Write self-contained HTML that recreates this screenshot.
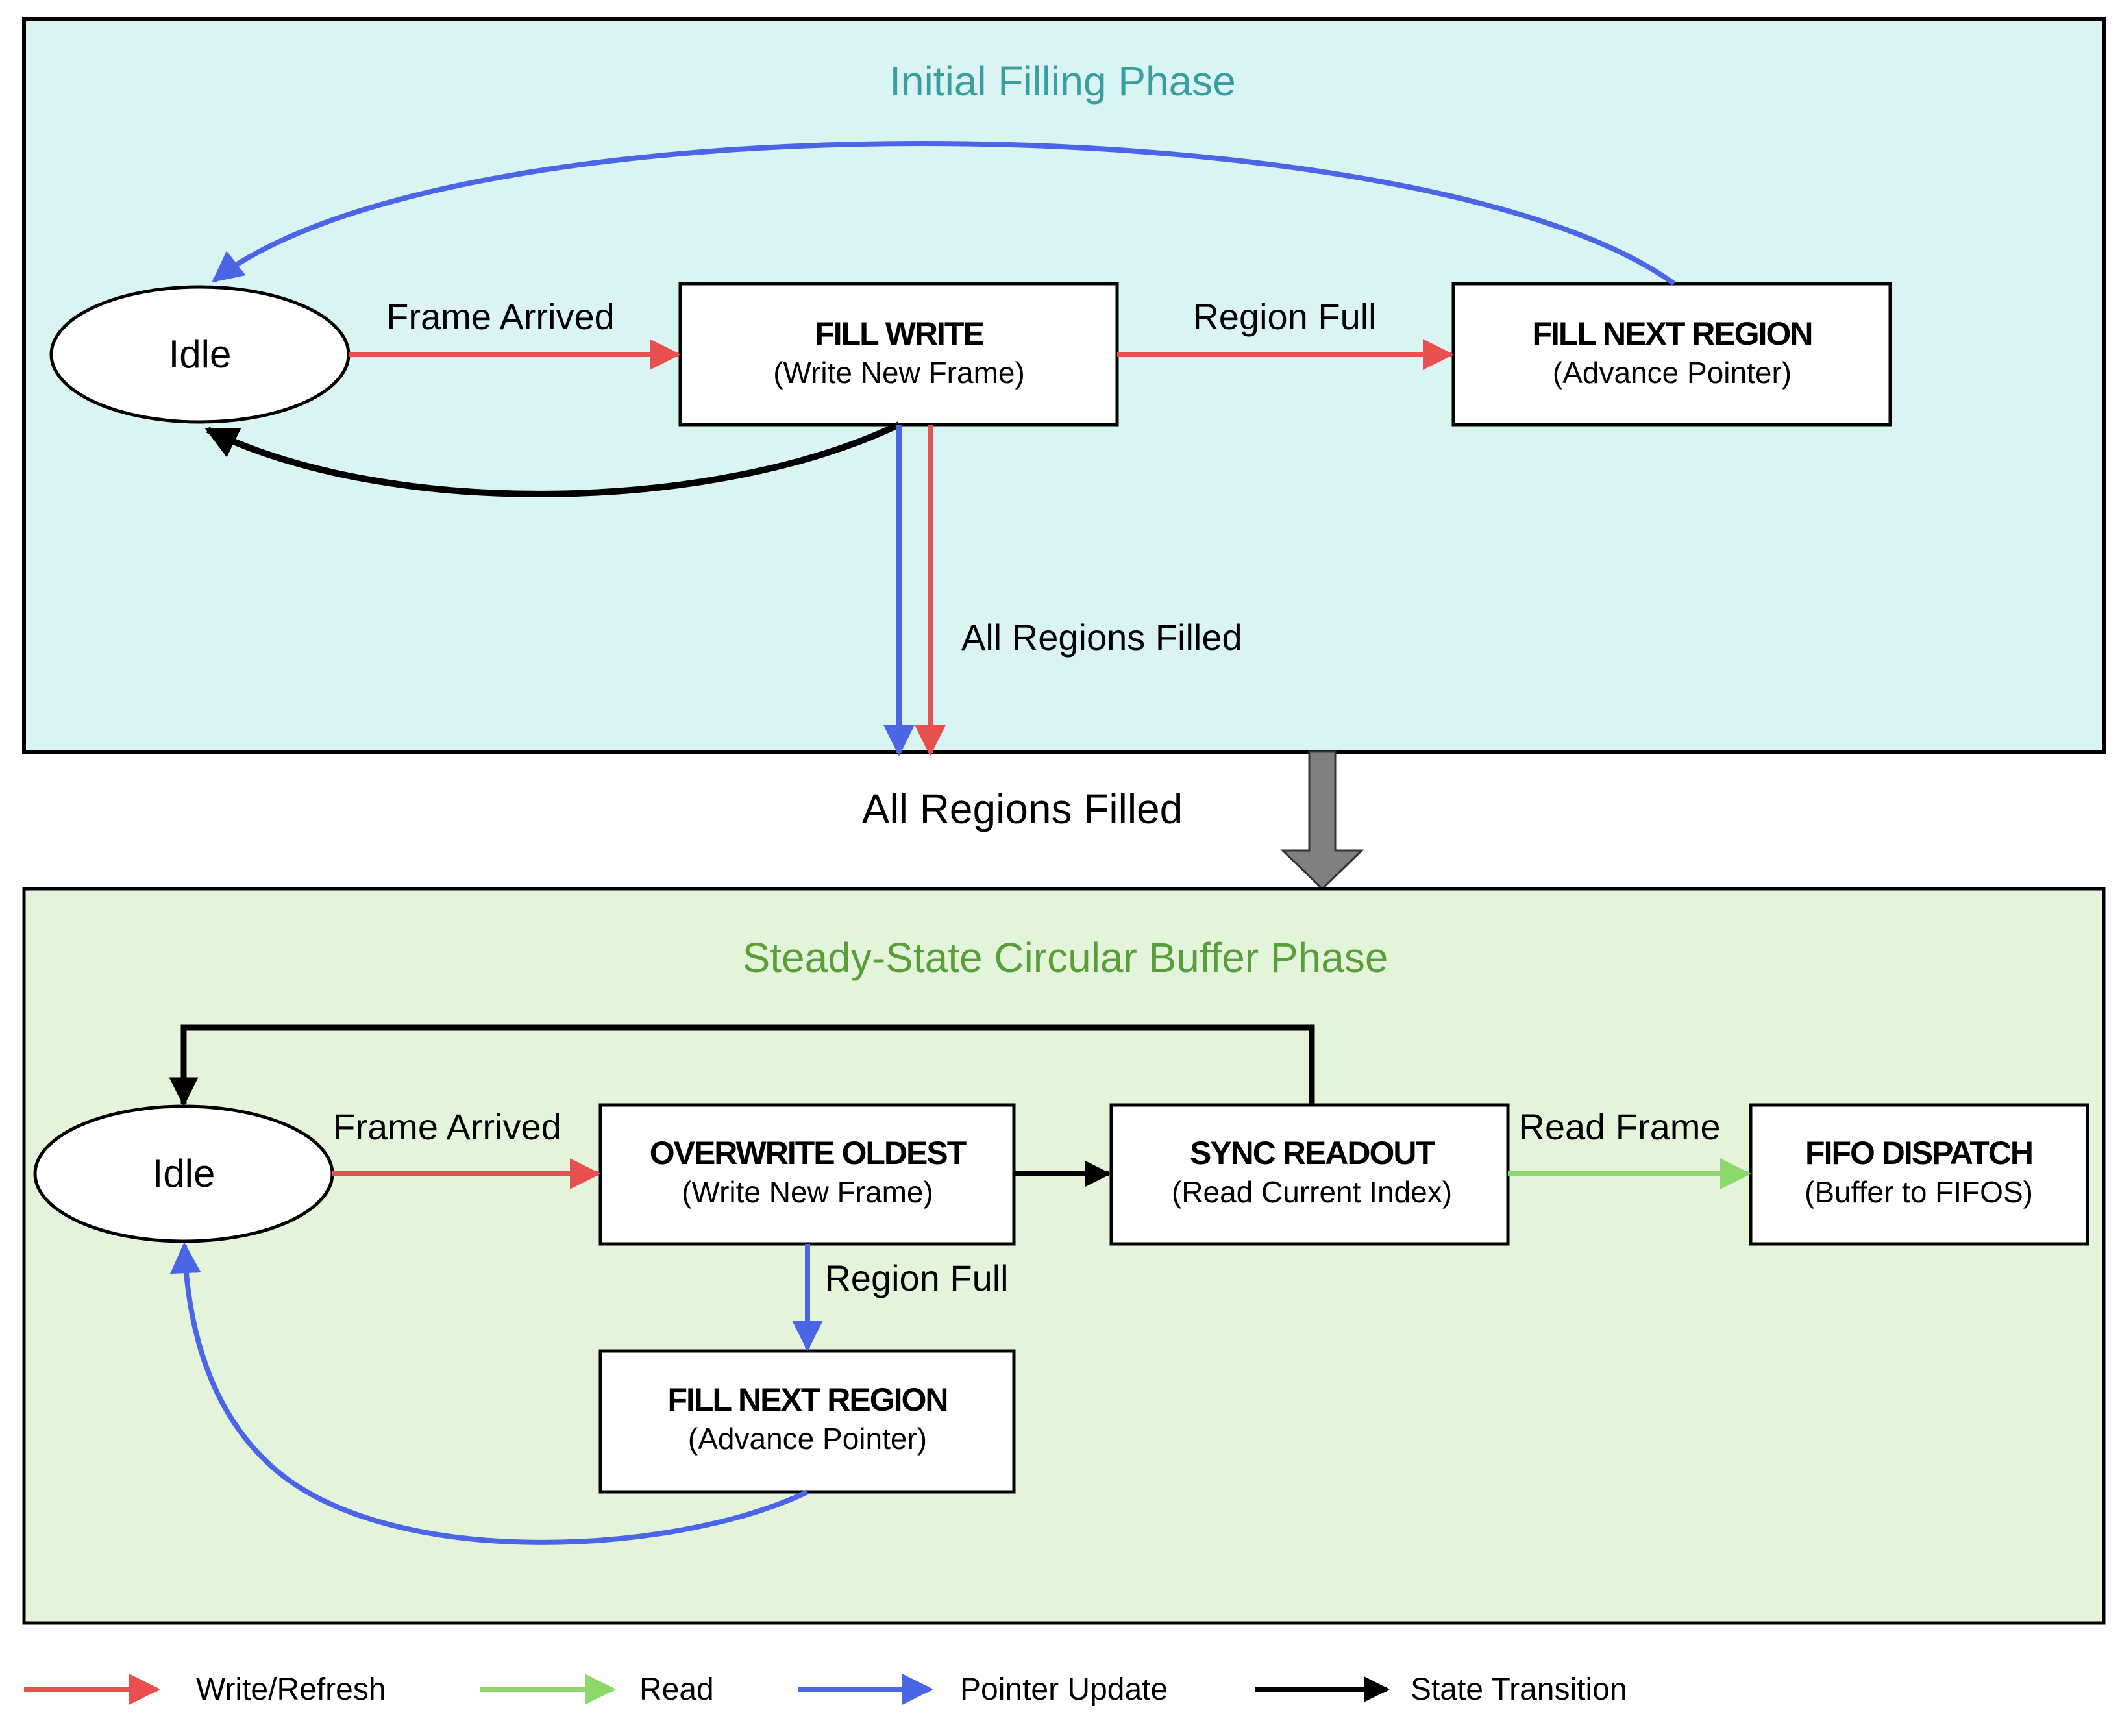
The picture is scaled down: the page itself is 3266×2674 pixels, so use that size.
<!DOCTYPE html>
<html><head><meta charset="utf-8"><style>html,body{margin:0;padding:0;background:#fff}svg{display:block}</style></head>
<body>
<svg width="3266" height="2674" viewBox="0 0 3266 2674" xmlns="http://www.w3.org/2000/svg" font-family="Liberation Sans, sans-serif">
<defs>
<marker id="mr" viewBox="0 0 10 10" refX="9" refY="5" markerWidth="6" markerHeight="6" orient="auto" markerUnits="strokeWidth"><path d="M0,0 L10,5 L0,10 z" fill="#e85050"/></marker>
<marker id="mb" viewBox="0 0 10 10" refX="9" refY="5" markerWidth="6" markerHeight="6" orient="auto" markerUnits="strokeWidth"><path d="M0,0 L10,5 L0,10 z" fill="#4a66e6"/></marker>
<marker id="mg" viewBox="0 0 10 10" refX="9" refY="5" markerWidth="6" markerHeight="6" orient="auto" markerUnits="strokeWidth"><path d="M0,0 L10,5 L0,10 z" fill="#8cd86a"/></marker>
<marker id="mk" viewBox="0 0 10 10" refX="9" refY="5" markerWidth="5" markerHeight="5" orient="auto" markerUnits="strokeWidth"><path d="M0,0 L10,5 L0,10 z" fill="#000"/></marker>
</defs>
<rect x="37" y="29" width="3204" height="1129" fill="#daf3f3" stroke="#000" stroke-width="6"/>
<text x="1637" y="147" font-size="64" fill="#3a9e9e" text-anchor="middle">Initial Filling Phase</text>
<ellipse cx="308" cy="546" rx="229" ry="104" fill="#fff" stroke="#000" stroke-width="5"/>
<text x="308" y="566" font-size="60" text-anchor="middle">Idle</text>
<rect x="1048" y="437" width="673" height="217" fill="#fff" stroke="#000" stroke-width="5"/>
<text x="1385" y="531" font-size="50" font-weight="bold" text-anchor="middle" letter-spacing="-2">FILL WRITE</text>
<text x="1385" y="590" font-size="46" text-anchor="middle">(Write New Frame)</text>
<rect x="2239" y="437" width="673" height="217" fill="#fff" stroke="#000" stroke-width="5"/>
<text x="2576" y="531" font-size="50" font-weight="bold" text-anchor="middle" letter-spacing="-2">FILL NEXT REGION</text>
<text x="2576" y="590" font-size="46" text-anchor="middle">(Advance Pointer)</text>
<text x="771" y="507" font-size="56" text-anchor="middle">Frame Arrived</text>
<line x1="537" y1="546" x2="1044" y2="546" stroke="#e85050" stroke-width="8" marker-end="url(#mr)"/>
<text x="1979" y="507" font-size="56" text-anchor="middle">Region Full</text>
<line x1="1721" y1="546" x2="2235" y2="546" stroke="#e85050" stroke-width="8" marker-end="url(#mr)"/>
<path d="M2579,437 C2200,160 700,140 330,432" fill="none" stroke="#4a66e6" stroke-width="8" marker-end="url(#mb)"/>
<path d="M1385,654 C1100,790 600,800 320,662" fill="none" stroke="#000" stroke-width="10" marker-end="url(#mk)"/>
<line x1="1385" y1="654" x2="1385" y2="1160" stroke="#4a66e6" stroke-width="8" marker-end="url(#mb)"/>
<line x1="1433" y1="654" x2="1433" y2="1160" stroke="#e85050" stroke-width="8" marker-end="url(#mr)"/>
<text x="1481" y="1001" font-size="56">All Regions Filled</text>
<text x="1575" y="1268" font-size="64" text-anchor="middle">All Regions Filled</text>
<path d="M2017,1158 L2057,1158 L2057,1310 L2098,1310 L2037,1369 L1976,1310 L2017,1310 Z" fill="#808080" stroke="#333" stroke-width="3"/>
<rect x="37" y="1369" width="3204" height="1131" fill="#e4f4da" stroke="#000" stroke-width="5"/>
<text x="1641" y="1497" font-size="64" fill="#5a9e3a" text-anchor="middle">Steady-State Circular Buffer Phase</text>
<ellipse cx="283" cy="1808" rx="229" ry="104" fill="#fff" stroke="#000" stroke-width="5"/>
<text x="283" y="1828" font-size="60" text-anchor="middle">Idle</text>
<rect x="925" y="1702" width="637" height="214" fill="#fff" stroke="#000" stroke-width="5"/>
<text x="1244" y="1793" font-size="50" font-weight="bold" text-anchor="middle" letter-spacing="-2">OVERWRITE OLDEST</text>
<text x="1244" y="1852" font-size="46" text-anchor="middle">(Write New Frame)</text>
<rect x="1712" y="1702" width="611" height="214" fill="#fff" stroke="#000" stroke-width="5"/>
<text x="2021" y="1793" font-size="50" font-weight="bold" text-anchor="middle" letter-spacing="-2">SYNC READOUT</text>
<text x="2021" y="1852" font-size="46" text-anchor="middle">(Read Current Index)</text>
<rect x="2697" y="1702" width="519" height="214" fill="#fff" stroke="#000" stroke-width="5"/>
<text x="2956" y="1793" font-size="50" font-weight="bold" text-anchor="middle" letter-spacing="-2">FIFO DISPATCH</text>
<text x="2956" y="1852" font-size="46" text-anchor="middle">(Buffer to FIFOS)</text>
<rect x="925" y="2081" width="637" height="217" fill="#fff" stroke="#000" stroke-width="5"/>
<text x="1244" y="2173" font-size="50" font-weight="bold" text-anchor="middle" letter-spacing="-2">FILL NEXT REGION</text>
<text x="1244" y="2232" font-size="46" text-anchor="middle">(Advance Pointer)</text>
<text x="689" y="1755" font-size="56" text-anchor="middle">Frame Arrived</text>
<line x1="512" y1="1808" x2="921" y2="1808" stroke="#e85050" stroke-width="8" marker-end="url(#mr)"/>
<line x1="1562" y1="1808" x2="1708" y2="1808" stroke="#000" stroke-width="8" marker-end="url(#mk)"/>
<text x="2495" y="1755" font-size="56" text-anchor="middle">Read Frame</text>
<line x1="2323" y1="1808" x2="2693" y2="1808" stroke="#8cd86a" stroke-width="8" marker-end="url(#mg)"/>
<polyline points="2021,1702 2021,1583 283,1583 283,1700" fill="none" stroke="#000" stroke-width="9" marker-end="url(#mk)"/>
<line x1="1244" y1="1916" x2="1244" y2="2077" stroke="#4a66e6" stroke-width="8" marker-end="url(#mb)"/>
<text x="1412" y="1988" font-size="56" text-anchor="middle">Region Full</text>
<path d="M1244,2298 C1040,2396 600,2420 420,2260 C330,2180 290,2060 284,1918" fill="none" stroke="#4a66e6" stroke-width="8" marker-end="url(#mb)"/>
<line x1="37" y1="2602" x2="242" y2="2602" stroke="#e85050" stroke-width="8" marker-end="url(#mr)"/>
<text x="302" y="2618" font-size="48">Write/Refresh</text>
<line x1="740" y1="2602" x2="944" y2="2602" stroke="#8cd86a" stroke-width="8" marker-end="url(#mg)"/>
<text x="985" y="2618" font-size="48">Read</text>
<line x1="1229" y1="2602" x2="1433" y2="2602" stroke="#4a66e6" stroke-width="8" marker-end="url(#mb)"/>
<text x="1479" y="2618" font-size="48">Pointer Update</text>
<line x1="1933" y1="2602" x2="2137" y2="2602" stroke="#000" stroke-width="8" marker-end="url(#mk)"/>
<text x="2173" y="2618" font-size="48">State Transition</text>
</svg>
</body></html>
